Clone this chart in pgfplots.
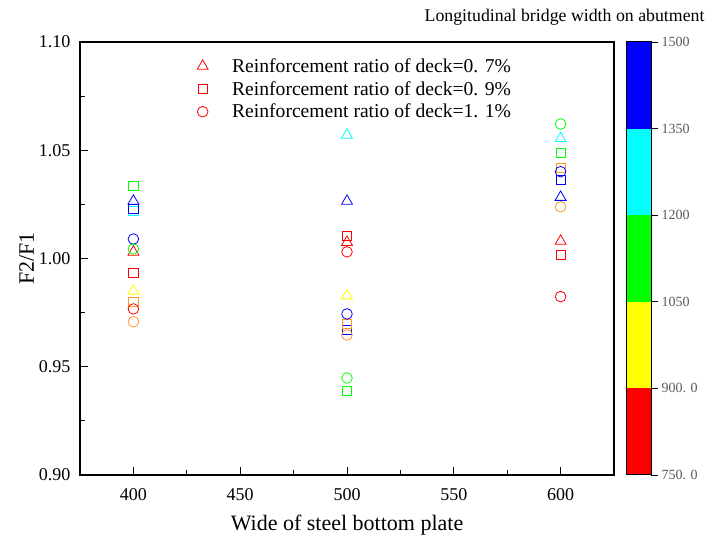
\documentclass[border=0pt]{standalone}
\usepackage{pgfplots}
\pgfplotsset{compat=1.18}
\usepackage{fontspec}
\setmainfont{Liberation Serif}
\definecolor{cR}{RGB}{255,0,0}
\definecolor{cY}{RGB}{255,255,0}
\definecolor{cO}{RGB}{255,150,40}
\definecolor{cG}{RGB}{0,255,0}
\definecolor{cC}{RGB}{0,255,255}
\definecolor{cB}{RGB}{0,0,255}
\definecolor{cbtxt}{RGB}{90,90,90}
\pgfplotsset{
  myclasses/.style={scatter, only marks, scatter src=explicit symbolic, line width=0.8bp, forget plot,
    scatter/classes={R={cR},Y={cY},O={cO},G={cG},C={cC},B={cB}}}
}
\begin{document}
\begin{tikzpicture}
\path[use as bounding box] (-80bp,-65bp) rectangle (640bp,475bp);
\begin{axis}[
  at={(0,0)}, anchor=south west,
  scale only axis, width=534bp, height=433bp,
  xmin=375, xmax=625, ymin=0.90, ymax=1.10,
  xtick={400,450,500,550,600}, minor x tick num=1,
  ytick={0.90,0.95,1.00,1.05,1.10}, minor y tick num=1,
  xtick pos=left, ytick pos=left,
  tick align=inside,
  major tick length=8bp, minor tick length=5bp,
  axis line style={line width=1.2bp},
  every tick/.style={black, line width=1bp},
  /pgf/number format/assume math mode=true,
  ticklabel style={font=\fontsize{18bp}{21bp}\selectfont},
  yticklabel style={/pgf/number format/fixed, /pgf/number format/fixed zerofill, /pgf/number format/precision=2, xshift=-6bp},
  xticklabel style={/pgf/number format/set thousands separator={}, yshift=-10bp},
  xlabel={Wide of steel bottom plate},
  ylabel={F2/F1},
  label style={font=\fontsize{22bp}{26bp}\selectfont},
  xlabel style={at={(axis description cs:0.5,-0.115)}, anchor=center},
  ylabel style={at={(axis description cs:-0.10,0.5)}, anchor=center},
  legend style={at={(axis cs:428.4,1.0943)}, anchor=north west, draw=none, fill=none,
    font=\fontsize{19.6bp}{23bp}\selectfont, row sep=3.5bp,
    /tikz/every odd column/.append style={column sep=22bp}},
  legend cell align=left,
]
\addlegendimage{only marks, mark=triangle, mark size=6.3bp, line width=0.8bp, cR}
\addlegendentry{Reinforcement ratio of deck=0. 7\%}
\addlegendimage{only marks, mark=square, mark size=4.6bp, line width=0.8bp, cR}
\addlegendentry{Reinforcement ratio of deck=0. 9\%}
\addlegendimage{only marks, mark=o, mark size=5.3bp, line width=0.8bp, cR}
\addlegendentry{Reinforcement ratio of deck=1. 1\%}

% squares
\addplot[myclasses, mark=square, mark size=4.6bp] table[meta=c] {
x y c
400 1.0220 C
400 1.0230 B
400 1.0336 G
400 0.9933 R
400 0.9800 O
500 0.9670 B
500 1.0104 R
500 0.9697 O
500 0.9389 G
600 1.0486 G
600 1.0417 O
600 1.0363 B
600 1.0016 R
};
% triangles
\addplot[myclasses, mark=triangle, mark size=6.3bp] table[meta=c] {
x y c
400 1.0265 B
400 1.0030 R
400 0.9850 Y
500 1.0570 C
500 1.0265 B
500 1.0075 R
500 0.9828 Y
600 1.0555 C
600 1.0283 B
600 1.0080 R
};
% circles
\addplot[myclasses, mark=o, mark size=5.3bp] table[meta=c] {
x y c
400 1.0090 B
400 1.0044 G
400 0.9767 R
400 0.9708 O
500 1.0031 R
500 0.9744 B
500 0.9647 O
500 0.9448 G
600 1.0621 G
600 1.0401 B
600 1.0239 O
600 0.9824 R
};
\end{axis}

\begin{axis}[
  at={(546bp,0)}, anchor=south west,
  scale only axis, width=25bp, height=433bp,
  xmin=0, xmax=1, ymin=750, ymax=1500,
  xtick=\empty,
  ytick={750,900,1050,1200,1350,1500},
  yticklabels={750. 0,900. 0,1050,1200,1350,1500},
  ytick pos=right, yticklabel pos=right,
  tick align=outside, major tick length=7bp,
  axis line style={line width=1bp},
  every tick/.style={black, line width=0.8bp},
  yticklabel style={font=\fontsize{14bp}{16bp}\selectfont, text=cbtxt},
  axis on top,
]
\addplot[fill=cR, draw=none] coordinates {(0,750) (1,750) (1,900) (0,900)} -- cycle;
\addplot[fill=cY, draw=none] coordinates {(0,900) (1,900) (1,1050) (0,1050)} -- cycle;
\addplot[fill=cG, draw=none] coordinates {(0,1050) (1,1050) (1,1200) (0,1200)} -- cycle;
\addplot[fill=cC, draw=none] coordinates {(0,1200) (1,1200) (1,1350) (0,1350)} -- cycle;
\addplot[fill=cB, draw=none] coordinates {(0,1350) (1,1350) (1,1500) (0,1500)} -- cycle;
\end{axis}
\node[anchor=base east, font=\fontsize{17.8bp}{20bp}\selectfont] at (628bp,453bp) {Longitudinal bridge width on abutment};
\end{tikzpicture}
\end{document}
